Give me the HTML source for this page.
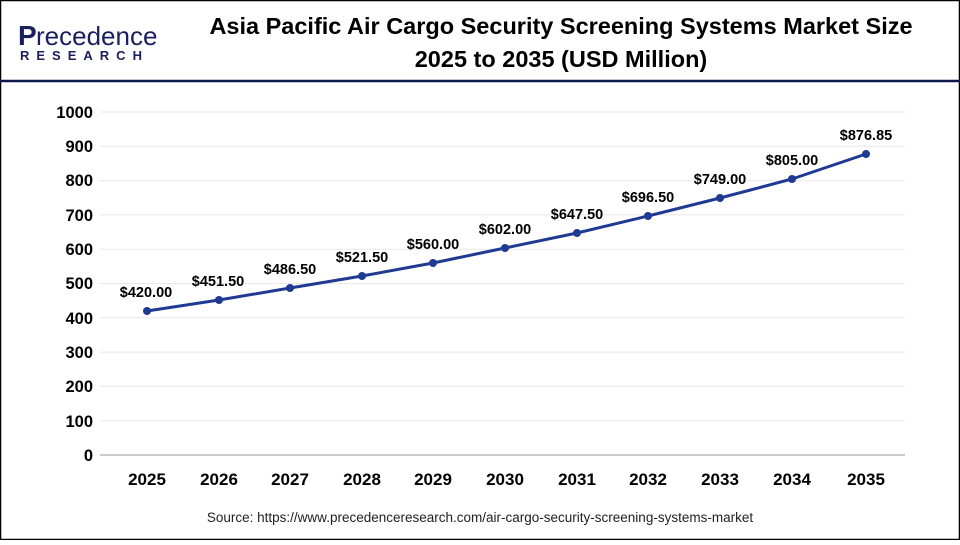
<!DOCTYPE html>
<html><head><style>
body{margin:0;width:960px;height:540px;overflow:hidden;background:#fff;font-family:"Liberation Sans",sans-serif}
</style></head><body>
<svg width="960" height="540" xmlns="http://www.w3.org/2000/svg" font-family="Liberation Sans, sans-serif">
<rect x="0.5" y="0.5" width="959" height="539" fill="#fff" stroke="#000" stroke-width="1.5"/>
<line x1="0" y1="81" x2="960" y2="81" stroke="#0f1a4a" stroke-width="2.5"/>
<text x="18" y="45" font-size="28" fill="#1a1f5e" font-weight="bold">P</text>
<text x="36" y="45" font-size="26" fill="#1a1f5e">recedence</text>
<text x="20" y="60" font-size="13" fill="#1a1f5e" font-weight="bold" letter-spacing="7">RESEARCH</text>
<text x="561" y="34" font-size="23.5" font-weight="bold" text-anchor="middle" fill="#000">Asia Pacific Air Cargo Security Screening Systems Market Size</text>
<text x="561" y="67" font-size="23.5" font-weight="bold" text-anchor="middle" fill="#000">2025 to 2035 (USD Million)</text>
<g stroke="#e8e8e8" stroke-width="1">
<line x1="100" x2="905" y1="112" y2="112"/><line x1="100" x2="905" y1="146.3" y2="146.3"/><line x1="100" x2="905" y1="180.6" y2="180.6"/><line x1="100" x2="905" y1="214.9" y2="214.9"/><line x1="100" x2="905" y1="249.2" y2="249.2"/><line x1="100" x2="905" y1="283.5" y2="283.5"/><line x1="100" x2="905" y1="317.8" y2="317.8"/><line x1="100" x2="905" y1="352.1" y2="352.1"/><line x1="100" x2="905" y1="386.4" y2="386.4"/><line x1="100" x2="905" y1="420.7" y2="420.7"/>
</g>
<line x1="100" x2="905" y1="455" y2="455" stroke="#bbb" stroke-width="1.5"/>
<g font-size="16.5" font-weight="bold" text-anchor="end" fill="#000">
<text x="93" y="118">1000</text><text x="93" y="152">900</text><text x="93" y="186">800</text><text x="93" y="221">700</text><text x="93" y="255">600</text><text x="93" y="289">500</text><text x="93" y="324">400</text><text x="93" y="358">300</text><text x="93" y="392">200</text><text x="93" y="427">100</text><text x="93" y="461">0</text>
</g>
<g font-size="17" font-weight="bold" text-anchor="middle" fill="#000">
<text x="147" y="485">2025</text><text x="219" y="485">2026</text><text x="290" y="485">2027</text><text x="362" y="485">2028</text><text x="433" y="485">2029</text><text x="505" y="485">2030</text><text x="577" y="485">2031</text><text x="648" y="485">2032</text><text x="720" y="485">2033</text><text x="792" y="485">2034</text><text x="866" y="485">2035</text>
</g>
<polyline fill="none" stroke="#1f3a93" stroke-width="3" points="147,311 219,300 290,288 362,276 433,263 505,248 577,233 648,216 720,198 792,179 866,154"/>
<g fill="#1f3a93">
<circle cx="147" cy="311" r="4"/><circle cx="219" cy="300" r="4"/><circle cx="290" cy="288" r="4"/><circle cx="362" cy="276" r="4"/><circle cx="433" cy="263" r="4"/><circle cx="505" cy="248" r="4"/><circle cx="577" cy="233" r="4"/><circle cx="648" cy="216" r="4"/><circle cx="720" cy="198" r="4"/><circle cx="792" cy="179" r="4"/><circle cx="866" cy="154" r="4"/>
</g>
<g font-size="14.5" font-weight="bold" text-anchor="middle" fill="#000">
<text x="146" y="297">$420.00</text><text x="218" y="286">$451.50</text><text x="290" y="274">$486.50</text><text x="362" y="262">$521.50</text><text x="433" y="249">$560.00</text><text x="505" y="234">$602.00</text><text x="577" y="219">$647.50</text><text x="648" y="202">$696.50</text><text x="720" y="184">$749.00</text><text x="792" y="165">$805.00</text><text x="866" y="140">$876.85</text>
</g>
<text x="480" y="522" font-size="13.5" text-anchor="middle" fill="#222">Source: https://www.precedenceresearch.com/air-cargo-security-screening-systems-market</text>
</svg>
</body></html>
